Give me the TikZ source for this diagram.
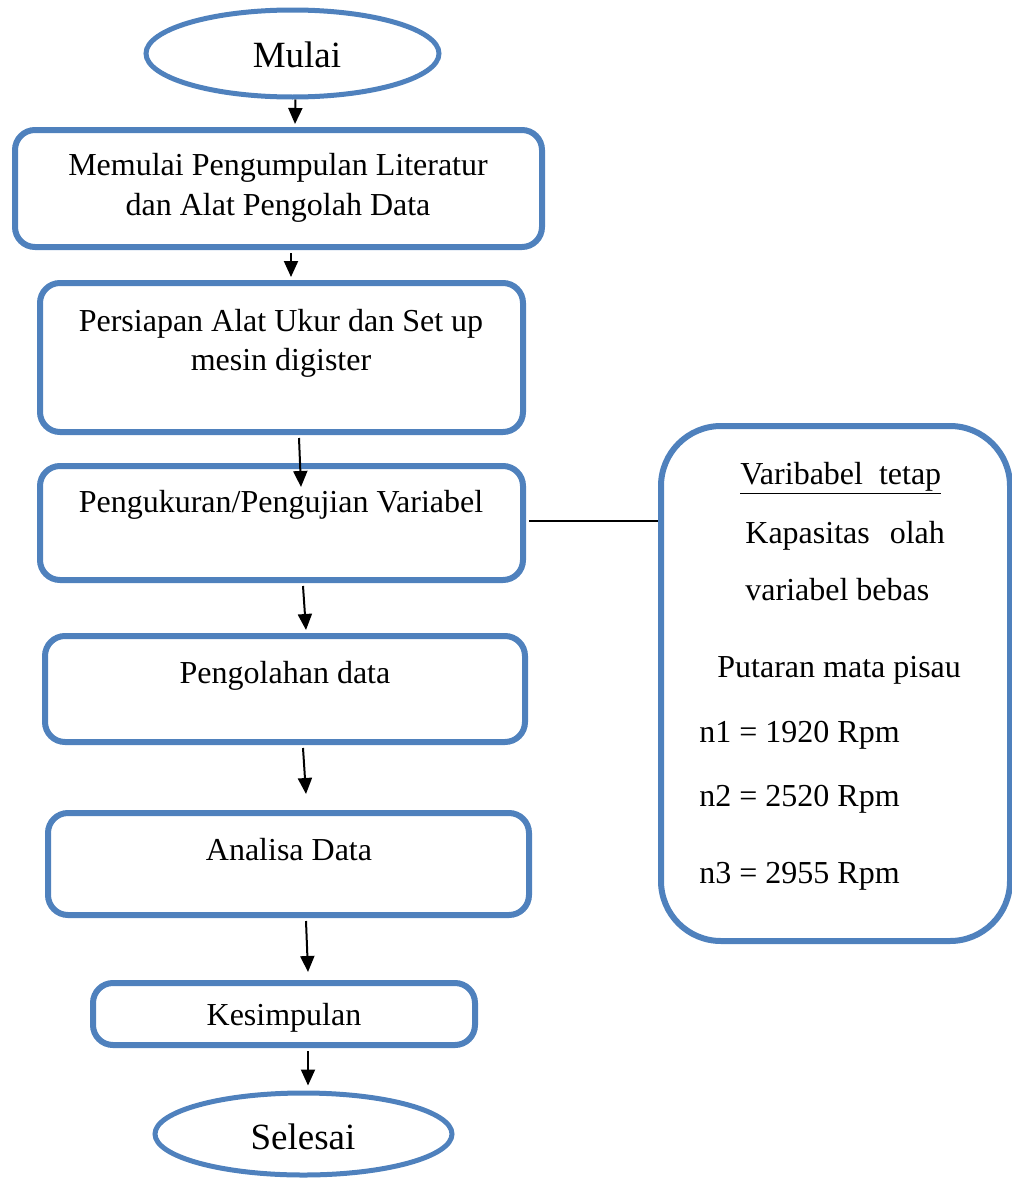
\documentclass[tikz,border=0pt]{standalone}
\usepackage{fontspec}
\setmainfont{Liberation Serif}
\usetikzlibrary{shapes.geometric,arrows.meta}
\definecolor{boxblue}{HTML}{4F81BD}
\tikzset{
  procbox/.style={draw=boxblue, line width=3pt, rounded corners=10pt, inner sep=0pt},
  termin/.style={draw=boxblue, line width=2.5pt, ellipse, inner sep=0pt},
  txt/.style={anchor=base, font=\fontsize{16pt}{20pt}\selectfont, inner sep=0pt},
  rtxt/.style={anchor=base west, font=\fontsize{16pt}{20pt}\selectfont, inner sep=0pt},
  bigtxt/.style={anchor=base, font=\fontsize{18.5pt}{22pt}\selectfont, inner sep=0pt},
  arr/.style={line width=1pt, -{Triangle[length=8pt,width=7pt]}},
  conn/.style={line width=1pt}
}
\begin{document}
\begin{tikzpicture}[x=0.5pt,y=-0.5pt]
\useasboundingbox (0,0) rectangle (1012,1178);
% shapes
\node[termin, minimum width=146.5pt, minimum height=43.5pt] (m) at (292.5,53.5) {};
\node[procbox, minimum width=263.5pt, minimum height=58.5pt] (b1) at (278.5,188.5) {};
\node[procbox, minimum width=241.5pt, minimum height=74.5pt] (b2) at (281.5,357.5) {};
\node[procbox, minimum width=241.5pt, minimum height=57pt] (b3) at (281.5,523) {};
\node[procbox, minimum width=240pt, minimum height=53pt] (b4) at (285,689) {};
\node[procbox, minimum width=240.5pt, minimum height=51pt] (b5) at (288.5,864) {};
\node[procbox, minimum width=191pt, minimum height=31pt] (b6) at (284,1014) {};
\node[termin, minimum width=148.5pt, minimum height=41pt] (s) at (303.5,1134) {};
\node[procbox, rounded corners=30pt, minimum width=174.5pt, minimum height=257.5pt] (r) at (835.5,683.5) {};
% texts
\node[bigtxt] (tm) at (297,67) {Mulai};
\node[txt] (t1a) at (278,175) {Memulai Pengumpulan Literatur};
\node[txt] (t1b) at (278,215) {dan Alat Pengolah Data};
\node[txt] (t2a) at (281,331) {Persiapan Alat Ukur dan Set up};
\node[txt] (t2b) at (281,370) {mesin digister};
\node[txt] (t3) at (281,512) {Pengukuran/Pengujian Variabel};
\node[txt] (t4) at (285,683) {Pengolahan data};
\node[txt] (t5) at (289,860) {Analisa Data};
\node[txt] (t6) at (284,1025) {Kesimpulan};
\node[bigtxt] (ts) at (303,1149) {Selesai};
\node[rtxt] (r1) at (740,484) {\underline{Varibabel\ \ tetap}};
\node[rtxt] (r2) at (745,543) {Kapasitas\hspace{10pt}olah};
\node[rtxt] (r3) at (745,600) {variabel bebas};
\node[rtxt] (r4) at (717,677) {Putaran mata pisau};
\node[rtxt] (r5) at (699,742) {n1 = 1920 Rpm};
\node[rtxt] (r6) at (699,806) {n2 = 2520 Rpm};
\node[rtxt] (r7) at (699,883) {n3 = 2955 Rpm};
% connectors
\draw[arr] ([xshift=1.5pt]m.south) -- ([xshift=8.25pt,yshift=1.5pt]b1.north);
\draw[arr] ([xshift=6.25pt,yshift=-1.5pt]b1.south) -- ([xshift=4.75pt,yshift=1.5pt]b2.north);
\draw[arr] ([xshift=8.75pt,yshift=-1.5pt]b2.south) -- ([xshift=9.75pt,yshift=-12pt]b3.north);
\draw[arr] ([xshift=10.75pt,yshift=-1.5pt]b3.south) -- ([xshift=10.5pt,yshift=1.5pt]b4.north);
\draw[arr] ([xshift=9pt,yshift=-1.5pt]b4.south) -- ([xshift=8.75pt,yshift=8pt]b5.north);
\draw[arr] ([xshift=8.75pt,yshift=-1.5pt]b5.south) -- ([xshift=12pt,yshift=4pt]b6.north);
\draw[arr] ([xshift=12pt,yshift=-1.5pt]b6.south) -- ([xshift=2.25pt,yshift=2.5pt]s.north);
\draw[conn] ([xshift=1.5pt,yshift=1pt]b3.east) -- ([yshift=1pt]b3.east -| r.west);
\end{tikzpicture}
\end{document}
